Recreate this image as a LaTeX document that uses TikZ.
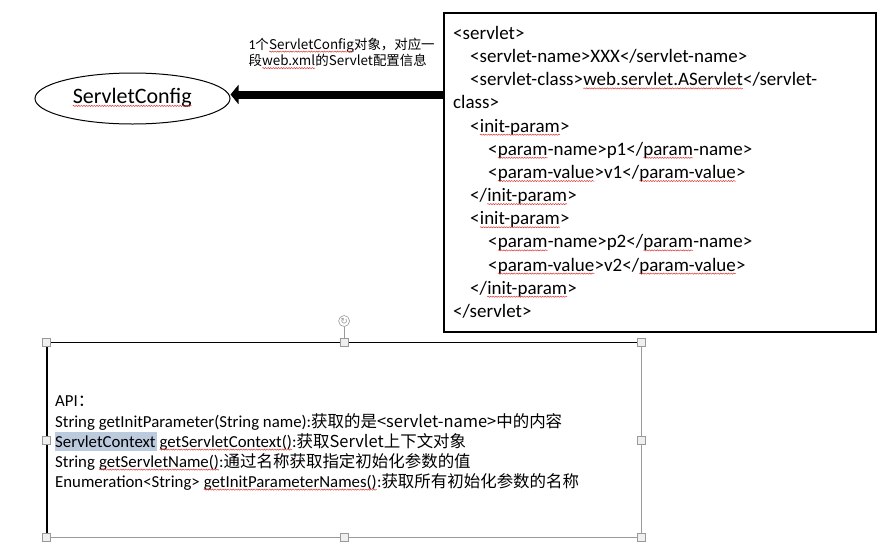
\documentclass[tikz,border=0pt]{standalone}
\usepackage{fontspec}
\setmainfont{Carlito}
\newfontfamily\cjk{Noto Sans CJK SC}[Scale=0.98]
\newfontfamily\symfont{DejaVu Sans}
\usetikzlibrary{shapes.geometric,arrows.meta,decorations.pathmorphing}
\definecolor{wavered}{HTML}{E03A3A}
\definecolor{hl}{HTML}{BCCADE}
\definecolor{handlefill}{HTML}{EFEFEF}
\definecolor{handledraw}{HTML}{9A9A9A}
\newcommand\rw[1]{\tikz[baseline=(w.base)]{\node[inner sep=0,outer sep=0,anchor=base west,draw=none,fill=none](w){#1};\draw[wavered,line width=0.5pt,decorate,decoration={snake,amplitude=0.6pt,segment length=2.6pt}]([yshift=-2.6pt]w.base west)--([yshift=-2.6pt]w.base east);}}
\begin{document}
\begin{tikzpicture}[x=1pt,y=-1pt,
  xmlline/.style={anchor=base west, inner sep=0, font=\fontsize{19}{23}\selectfont},
  apiline/.style={anchor=base west, inner sep=0, font=\fontsize{16.8}{20}\selectfont},
  notetext/.style={anchor=base west, inner sep=0, font=\fontsize{13.7}{16}\selectfont},
  handle/.style={draw=handledraw, fill=handlefill, minimum size=8pt, inner sep=0, line width=0.6pt},
  bigarrow/.style={line width=8pt, -{Triangle[length=8pt,width=19pt]}}]
\useasboundingbox (0,0) rectangle (892,558);

% XML box
\node[draw, line width=1.1pt, minimum width=432pt, minimum height=319pt, inner sep=0] (xmlbox) at (660,172.5) {};
\node[xmlline] (x1) at (453,39.5) {<servlet>};
\node[xmlline] (x2) at (470,62.6) {<servlet-name>XXX</servlet-name>};
\node[xmlline] (x3) at (470,85.8) {<servlet-class>\rw{web.servlet.AServlet}</servlet-};
\node[xmlline] (x4) at (453,108.9) {class>};
\node[xmlline] (x5) at (470,132.1) {<\rw{init-param}>};
\node[xmlline] (x6) at (488,155.2) {<\rw{param}-name>p1</\rw{param}-name>};
\node[xmlline] (x7) at (488,178.4) {<\rw{param-value}>v1</\rw{param-value}>};
\node[xmlline] (x8) at (470,201.5) {</\rw{init-param}>};
\node[xmlline] (x9) at (470,224.7) {<\rw{init-param}>};
\node[xmlline] (x10) at (488,247.8) {<\rw{param}-name>p2</\rw{param}-name>};
\node[xmlline] (x11) at (488,271.0) {<\rw{param-value}>v2</\rw{param-value}>};
\node[xmlline] (x12) at (470,294.1) {</\rw{init-param}>};
\node[xmlline] (x13) at (453,317.3) {</servlet>};

% ServletConfig ellipse
\node[ellipse, draw, line width=1pt, minimum width=195pt, minimum height=51pt, inner sep=0] (cfg) at (132.5,98.5) {};
\node[anchor=base, inner sep=0, font=\fontsize{22}{26}\selectfont] (cfgtxt) at (132.2,103.3) {\rw{ServletConfig}};

% note
\node[notetext] (n1) at (248.3,49) {1\cjk{个}\rw{ServletConfig}\cjk{对象，对应一}};
\node[notetext] (n2) at (248.3,65.5) {\cjk{段}\rw{web.xml}\cjk{的}Servlet\cjk{配置信息}};

% arrow
\coordinate (arr) at (0,94.5);
\draw[bigarrow] (xmlbox.west |- arr) -- (cfg.east |- arr);

% API box
\node[minimum width=594.8pt, minimum height=195pt, inner sep=0, outer sep=0] (api) at (344.1,440) {};
\node[circle, draw=handledraw, fill=white, minimum size=11pt, inner sep=0, line width=0.6pt] (rot) at (344.1,321) {};
\node[inner sep=0, text=handledraw, font=\symfont\fontsize{9}{9}\selectfont] (rotg) at (rot) {↻};
\draw[handledraw, line width=0.6pt] (rot.south) -- (api.north);
\draw[handledraw, line width=0.9pt] (api.north east) -- (api.south east) -- (api.south west);
\draw[black, line width=1.6pt] (api.south west) -- (api.north west);
\draw[black, line width=1.1pt] (api.north west) -- (api.north east);
\foreach \a [count=\i] in {north west,north,north east,west,east,south west,south,south east}
  \node[handle] (h\i) at (api.\a) {};

\fill[hl] (55,431.5) rectangle (157,451);
\node[apiline] (a0) at (55,406) {API\cjk{：}};
\node[apiline] (a1) at (55,427) {String getInitParameter(String name):\cjk{获取的是}<servlet-name>\cjk{中的内容}};
\node[apiline] (a2) at (55,447) {ServletContext \rw{getServletContext()}:\cjk{获取}Servlet\cjk{上下文对象}};
\node[apiline] (a3) at (55,467) {String \rw{getServletName()}:\cjk{通过名称获取指定初始化参数的值}};
\node[apiline] (a4) at (55,487) {Enumeration<String> \rw{getInitParameterNames()}:\cjk{获取所有初始化参数的名称}};
\end{tikzpicture}
\end{document}
